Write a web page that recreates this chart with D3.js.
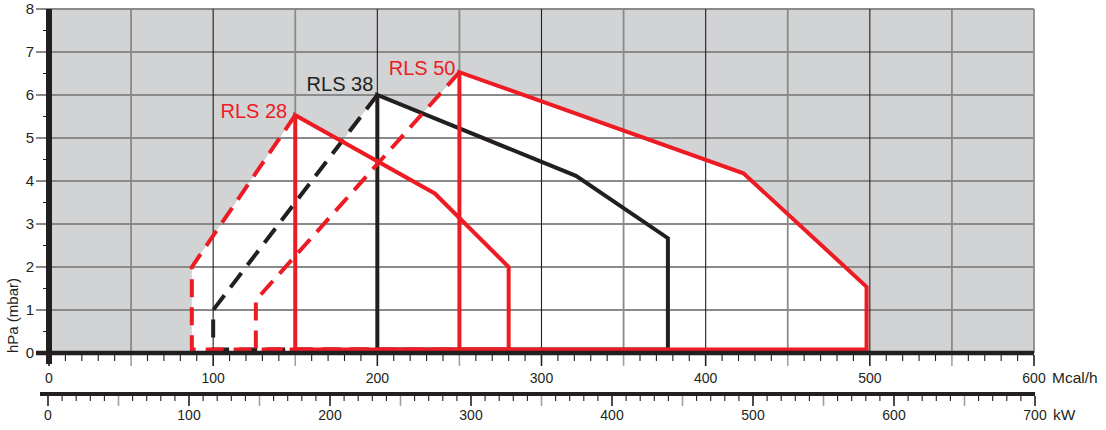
<!DOCTYPE html>
<html>
<head>
<meta charset="utf-8">
<script src="https://cdn.jsdelivr.net/npm/d3@7"></script>
<style>
  body { margin: 0; background: #fff; }
  svg { display: block; font-family: "Liberation Sans", Arial, Helvetica, sans-serif; }
</style>
</head>
<body>
<svg id="chart"></svg>
<script>
// Working-field data (Mcal/h, hPa)
const models = ["RLS 28", "RLS 38", "RLS 50"];
const minOutput = [87, 100, 126];
const minPressure = [2.0, 1.0, 1.23];
const peakOutput = [150, 200, 250];
const peakPressure = [5.53, 6.0, 6.53];
const kneeOutput = [235, 321, 423];
const kneePressure = [3.71, 4.12, 4.18];
const maxOutput = [280, 377, 498];
const maxPressure = [2.0, 2.67, 1.54];

const mcalLabels = [0, 100, 200, 300, 400, 500, 600];
const kwLabels = [0, 100, 200, 300, 400, 500, 600, 700];
const pressureLabels = [0, 1, 2, 3, 4, 5, 6, 7, 8];

// Layout and styling
const WIDTH = 1106;
const HEIGHT = 430;
const RED = "#ed1c24";
const BLACK = "#231f20";
const GRID_GREY = "#8a8a8a";
const BG_GREY = "#d1d3d4";
const LINE_W = 4;
const DASH = "18,10";
const modelColor = { "RLS 28": RED, "RLS 38": BLACK, "RLS 50": RED };
const labelOffset = { "RLS 28": [-8, 3], "RLS 38": [-4, -4], "RLS 50": [-4, 3] };
const drawOrder = [1, 0, 2];

const svg = d3.select("#chart")
    .attr("width", WIDTH)
    .attr("height", HEIGHT)
    .attr("viewBox", [0, 0, WIDTH, HEIGHT]);

const x = d3.scaleLinear().domain([0, 600]).range([49, 1034]);
const xKw = d3.scaleLinear().domain([0, 700]).range([48, 1035]);
const y = d3.scaleLinear().domain([0, 8]).range([353, 9]);

// bottom edges sit just on top of the thick axis line
const yLine = h => h === 0 ? y(0) - 3.5 : y(h);

// grey background of the plot
svg.append("rect")
    .attr("x", x(0)).attr("y", y(8))
    .attr("width", x(600) - x(0)).attr("height", y(0) - y(8))
    .attr("fill", BG_GREY);

// white working fields
const fieldPoints = i => [
    [minOutput[i], 0], [minOutput[i], minPressure[i]],
    [peakOutput[i], peakPressure[i]], [kneeOutput[i], kneePressure[i]],
    [maxOutput[i], maxPressure[i]], [maxOutput[i], 0]
];
svg.append("g").selectAll("path")
    .data(models.map((m, i) => fieldPoints(i)))
    .join("path")
    .attr("d", d3.line().x(d => x(d[0])).y(d => y(d[1])))
    .attr("fill", "#fff");

// grid
const grid = svg.append("g");
grid.selectAll("line.h")
    .data(pressureLabels.filter(d => d > 0))
    .join("line")
    .attr("x1", 36).attr("x2", x(600))
    .attr("y1", d => y(d)).attr("y2", d => y(d))
    .attr("stroke", GRID_GREY).attr("stroke-width", 1.8);

const vGrid = d3.range(50, 601, 50);
grid.selectAll("line.v")
    .data(vGrid)
    .join("line")
    .attr("x1", d => x(d)).attr("x2", d => x(d))
    .attr("y1", y(8)).attr("y2", y(0))
    .attr("stroke", d => d % 100 === 0 && d < 600 ? BLACK : GRID_GREY)
    .attr("stroke-width", d => d % 100 === 0 && d < 600 ? 1.1 : 1.8);

// envelope lines
const line = d3.line().x(d => x(d[0])).y(d => yLine(d[1]));
const curves = svg.append("g").attr("fill", "none")
    .attr("stroke-width", LINE_W).attr("stroke-linejoin", "miter");

drawOrder.forEach(i => {
    const color = modelColor[models[i]];
    // dashed part: from peak down to the minimum output and along the bottom
    curves.append("path")
        .attr("d", line([
            [peakOutput[i], peakPressure[i]], [minOutput[i], minPressure[i]],
            [minOutput[i], 0], [peakOutput[i], 0]
        ]))
        .attr("stroke", color)
        .attr("stroke-dasharray", DASH);
    // solid part
    curves.append("path")
        .attr("d", line([
            [peakOutput[i], 0], [peakOutput[i], peakPressure[i]],
            [kneeOutput[i], kneePressure[i]], [maxOutput[i], maxPressure[i]],
            [maxOutput[i], 0], [peakOutput[i], 0]
        ]))
        .attr("stroke", color);
});

// model labels next to the peaks
svg.append("g").selectAll("text")
    .data(models)
    .join("text")
    .attr("x", (d, i) => x(peakOutput[i]) + labelOffset[d][0])
    .attr("y", (d, i) => y(peakPressure[i]) + labelOffset[d][1])
    .attr("text-anchor", "end")
    .attr("font-size", 20)
    .attr("fill", d => modelColor[d])
    .text(d => d);

// y axis
svg.append("g").selectAll("line")
    .data(d3.range(0.5, 8, 1))
    .join("line")
    .attr("x1", 43).attr("x2", 49)
    .attr("y1", d => y(d)).attr("y2", d => y(d))
    .attr("stroke", BLACK).attr("stroke-width", 1);

svg.append("g").selectAll("text")
    .data(pressureLabels)
    .join("text")
    .attr("x", 34)
    .attr("y", d => y(d) + 5)
    .attr("text-anchor", "end")
    .attr("font-size", 15)
    .attr("fill", BLACK)
    .text(d => d);

svg.append("line")
    .attr("x1", 49).attr("x2", 49)
    .attr("y1", y(8)).attr("y2", 364)
    .attr("stroke", BLACK).attr("stroke-width", 6);

svg.append("text")
    .attr("transform", `translate(18,${y(0)}) rotate(-90)`)
    .attr("font-size", 15)
    .attr("fill", BLACK)
    .text("hPa (mbar)");

// bottom axes with minor, half and full ticks
function tickedAxis(scale, yTop, minorStep, lo, hi, minorLen, majorLen) {
    const g = svg.append("g");
    const all = d3.range(lo, hi + 0.001, minorStep);
    g.selectAll("line")
        .data(all)
        .join("line")
        .attr("x1", d => scale(d)).attr("x2", d => scale(d))
        .attr("y1", yTop)
        .attr("y2", d => yTop + (d % 50 === 0 ? majorLen : minorLen))
        .attr("stroke", d => d % 50 === 0 && d % 100 !== 0 ? "#a0a0a0" : BLACK)
        .attr("stroke-width", d => d % 50 === 0 ? 1.6 : 1.1);
    return g;
}

tickedAxis(x, 355, 10, 0, 600, 6, 11);
svg.append("line")
    .attr("x1", 36).attr("x2", x(600))
    .attr("y1", 353).attr("y2", 353)
    .attr("stroke", BLACK).attr("stroke-width", 4.5);

svg.append("g").selectAll("text")
    .data(mcalLabels)
    .join("text")
    .attr("x", d => x(d))
    .attr("y", 383)
    .attr("text-anchor", "middle")
    .attr("font-size", 14)
    .attr("fill", BLACK)
    .text(d => d);

svg.append("text")
    .attr("x", 1052).attr("y", 383)
    .attr("font-size", 15.5)
    .attr("fill", BLACK)
    .text("Mcal/h");

tickedAxis(xKw, 396, 10, 0, 700, 5, 10);
svg.append("line")
    .attr("x1", 40).attr("x2", xKw(700))
    .attr("y1", 394).attr("y2", 394)
    .attr("stroke", BLACK).attr("stroke-width", 4);

svg.append("g").selectAll("text")
    .data(kwLabels)
    .join("text")
    .attr("x", d => xKw(d))
    .attr("y", 420)
    .attr("text-anchor", "middle")
    .attr("font-size", 14)
    .attr("fill", BLACK)
    .text(d => d);

svg.append("text")
    .attr("x", 1053).attr("y", 420)
    .attr("font-size", 15.5)
    .attr("fill", BLACK)
    .text("kW");
</script>
</body>
</html>
